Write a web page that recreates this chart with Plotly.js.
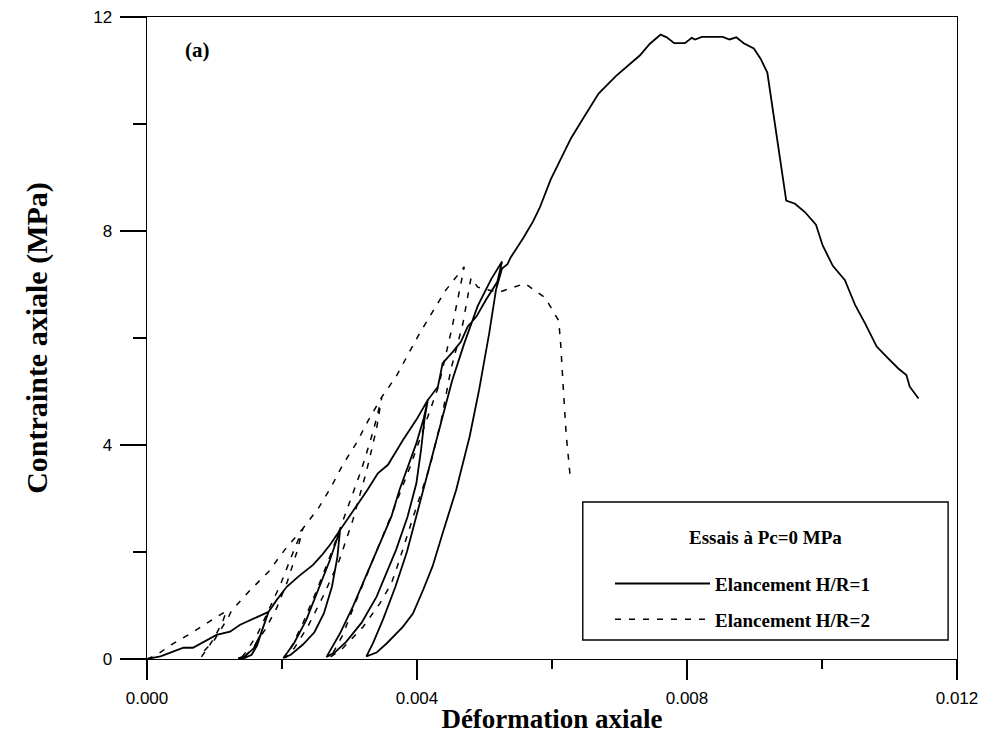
<!DOCTYPE html>
<html>
<head>
<meta charset="utf-8">
<script src="https://cdn.plot.ly/plotly-3.0.1.min.js"></script>
<style>html,body{margin:0;padding:0;background:#fff;}#chart{width:995px;height:742px;}</style>
</head>
<body>
<div id="chart"></div>
<script>
// ---- Data ----
// Series 1: Elancement H/R=1 (solid) - loading path with 4 unloading/reloading loops
var solidStrain = [
  0, 0.00020, 0.00054, 0.00068, 0.00103, 0.00123, 0.00138, 0.00160, 0.00180,
  0.00175, 0.00168, 0.00158, 0.00146, 0.00135, 0.00145, 0.00155, 0.00163, 0.00171, 0.00180,
  0.00192, 0.00207, 0.00225, 0.00246, 0.00259, 0.00272, 0.00286,
  0.00282, 0.00274, 0.00262, 0.00248, 0.00231, 0.00213, 0.00202,
  0.00208, 0.00218, 0.00236, 0.00256, 0.00271, 0.00286,
  0.00310, 0.00326, 0.00342, 0.00357, 0.00379, 0.00399, 0.00416,
  0.00411, 0.00406, 0.00399, 0.00386, 0.00369, 0.00340, 0.00318, 0.00295, 0.00278, 0.00266,
  0.00275, 0.00286, 0.00305, 0.00335, 0.00362, 0.00374, 0.00399, 0.00410, 0.00416,
  0.00431, 0.00438, 0.00453, 0.00465, 0.00475, 0.00488, 0.00502, 0.00519, 0.00526,
  0.00510, 0.00490, 0.00470, 0.00452, 0.00435, 0.00418, 0.00402, 0.00385, 0.00368, 0.00350, 0.00335, 0.00325,
  0.00340, 0.00355, 0.00379, 0.00394, 0.00409, 0.00423, 0.00438, 0.00458, 0.00478, 0.00492, 0.00507, 0.00517, 0.00526,
  0.00534, 0.00539, 0.00557, 0.00572, 0.00582, 0.00598, 0.00613, 0.00628, 0.00644, 0.00669, 0.00695, 0.00730,
  0.00745, 0.00761, 0.00770, 0.00781, 0.00797, 0.00807, 0.00812, 0.00822, 0.00853, 0.00863, 0.00873, 0.00884,
  0.00899, 0.00909, 0.00919, 0.00933, 0.00947, 0.00960, 0.00975, 0.00991, 0.01001, 0.01016, 0.01034, 0.01046,
  0.01049, 0.01064, 0.01069, 0.01081, 0.01098, 0.01113, 0.01125, 0.01130, 0.01143
];
var solidStress = [
  0, 0.05, 0.21, 0.21, 0.45, 0.51, 0.64, 0.76, 0.88,
  0.70, 0.45, 0.20, 0.06, 0.01, 0.02, 0.08, 0.25, 0.55, 0.88,
  1.10, 1.35, 1.55, 1.76, 1.94, 2.15, 2.41,
  1.90, 1.35, 0.85, 0.50, 0.27, 0.08, 0.02,
  0.12, 0.30, 0.73, 1.35, 1.85, 2.41,
  2.85, 3.15, 3.47, 3.63, 4.09, 4.47, 4.84,
  4.47, 3.91, 3.28, 2.66, 2.04, 1.16, 0.68, 0.32, 0.12, 0.04,
  0.25, 0.48, 0.98, 1.85, 2.66, 3.16, 4.03, 4.50, 4.84,
  5.09, 5.53, 5.74, 5.93, 6.21, 6.40, 6.71, 7.05, 7.43,
  7.10, 6.60, 5.90, 5.20, 4.40, 3.60, 2.80, 2.00, 1.35, 0.75, 0.30, 0.05,
  0.12, 0.29, 0.60, 0.85, 1.29, 1.73, 2.35, 3.16, 4.16, 5.03, 6.09, 6.90, 7.30,
  7.38, 7.51, 7.86, 8.18, 8.44, 8.96, 9.35, 9.73, 10.06, 10.57, 10.90, 11.28,
  11.50, 11.67, 11.62, 11.51, 11.51, 11.61, 11.58, 11.63, 11.63, 11.58, 11.62, 11.51,
  11.41, 11.22, 10.96, 9.80, 8.57, 8.51, 8.35, 8.12, 7.73, 7.35, 7.08, 6.71,
  6.62, 6.27, 6.15, 5.84, 5.62, 5.43, 5.31, 5.09, 4.87
];

// Series 2: Elancement H/R=2 (dashed)
var dashedStrain = [
  0, 0.00015, 0.00035, 0.00069, 0.00095, 0.00118,
  0.00112, 0.00102, 0.00090, 0.00080, 0.00084, 0.00100, 0.00121, 0.00125,
  0.00153, 0.00180, 0.00204, 0.00231,
  0.00222, 0.00208, 0.00192, 0.00175, 0.00158, 0.00145, 0.00138,
  0.00148, 0.00165, 0.00182, 0.00198, 0.00215, 0.00231,
  0.00254, 0.00273, 0.00290, 0.00310, 0.00327, 0.00348,
  0.00340, 0.00325, 0.00305, 0.00285, 0.00262, 0.00238, 0.00218, 0.00205,
  0.00215, 0.00232, 0.00252, 0.00272, 0.00295, 0.00318, 0.00335, 0.00348,
  0.00369, 0.00386, 0.00404, 0.00423, 0.00443, 0.00470,
  0.00462, 0.00452, 0.00432, 0.00410, 0.00390, 0.00364, 0.00336, 0.00307, 0.00290, 0.00275, 0.00270,
  0.00290, 0.00320, 0.00345, 0.00362, 0.00374, 0.00396, 0.00419, 0.00436, 0.00450, 0.00468, 0.00480,
  0.00490, 0.00520, 0.00560, 0.00590, 0.00610, 0.00613, 0.00617, 0.00621, 0.00627
];
var dashedStress = [
  0, 0.08, 0.26, 0.51, 0.72, 0.90,
  0.70, 0.45, 0.20, 0.03, 0.14, 0.36, 0.79, 0.90,
  1.29, 1.63, 2.04, 2.44,
  2.00, 1.45, 0.95, 0.55, 0.22, 0.05, 0.00,
  0.15, 0.50, 0.95, 1.40, 1.95, 2.44,
  2.82, 3.22, 3.63, 4.03, 4.44, 4.90,
  4.30, 3.50, 2.60, 1.85, 1.20, 0.60, 0.20, 0.02,
  0.25, 0.70, 1.30, 1.95, 2.75, 3.55, 4.25, 4.90,
  5.28, 5.68, 6.09, 6.49, 6.90, 7.33,
  6.80, 6.20, 5.10, 4.30, 3.60, 2.75, 1.90, 1.00, 0.45, 0.10, 0.02,
  0.20, 0.60, 1.04, 1.41, 1.85, 2.72, 3.59, 4.47, 5.40, 6.27, 7.12,
  6.95, 6.85, 7.02, 6.75, 6.32, 5.86, 5.00, 4.20, 3.40
];

var seriesNames = ['Elancement H/R=1', 'Elancement H/R=2'];
var legendTitle = 'Essais à Pc=0 MPa';
var panelLabel = '(a)';
var xTickVals = [0, 0.004, 0.008, 0.012];
var xTickText = ['0.000', '0.004', '0.008', '0.012'];
var xMinorVals = [0.002, 0.006, 0.010];
var yTickVals = [0, 4, 8, 12];
var yTickText = ['0', '4', '8', '12'];
var yMinorVals = [2, 6, 10];
var xTitle = 'Déformation axiale';
var yTitle = 'Contrainte axiale (MPa)';

// ---- Chart ----
var serif = 'Liberation Serif, Times New Roman, serif';
var sans = 'Liberation Sans, Arial, sans-serif';

var traces = [
  {x: solidStrain, y: solidStress, mode: 'lines', name: seriesNames[0], legendgroup: 'g1',
   line: {color: 'black', width: 1.8, dash: 'solid'}, hoverinfo: 'x+y'},
  {x: dashedStrain, y: dashedStress, mode: 'lines', name: seriesNames[1], legendgroup: 'g2',
   line: {color: 'black', width: 1.5, dash: '6px,8px'}, hoverinfo: 'x+y'}
];

var axisCommon = {
  showline: true, linecolor: 'black', linewidth: 1.4, mirror: true,
  showgrid: false, zeroline: false, ticks: 'outside', tickcolor: 'black', tickwidth: 1.3,
  tickfont: {family: sans, size: 17, color: 'black'}, autorange: false
};

var layout = {
  width: 995, height: 742,
  margin: {l: 147, r: 38, t: 17, b: 83},
  paper_bgcolor: 'white', plot_bgcolor: 'white',
  showlegend: true,
  xaxis: Object.assign({}, axisCommon, {
    range: [0, 0.012], tickmode: 'array', tickvals: xTickVals, ticktext: xTickText,
    ticklen: 20, ticklabelstandoff: 3,
    minor: {tickmode: 'array', tickvals: xMinorVals, ticks: 'outside', ticklen: 9, tickwidth: 1.2, tickcolor: 'black', showgrid: false},
    title: {text: xTitle, font: {family: serif, size: 27, color: 'black', weight: 'bold'}, standoff: 2}
  }),
  yaxis: Object.assign({}, axisCommon, {
    range: [0, 12], tickmode: 'array', tickvals: yTickVals, ticktext: yTickText,
    ticklen: 26, ticklabelstandoff: 4,
    minor: {tickmode: 'array', tickvals: yMinorVals, ticks: 'outside', ticklen: 13, tickwidth: 1.2, tickcolor: 'black', showgrid: false},
    title: {text: yTitle, font: {family: serif, size: 30, color: 'black', weight: 'bold'}, standoff: 36}
  }),
  legend: {
    x: 0.5716, y: 0.147, xanchor: 'left', yanchor: 'top',
    bgcolor: 'rgba(255,255,255,0)', borderwidth: 0,
    itemwidth: 95, tracegroupgap: 8, traceorder: 'grouped',
    font: {family: serif, size: 19, color: 'black', weight: 'bold'}
  },
  shapes: [
    {type: 'rect', xref: 'paper', yref: 'paper', x0: 0.538, x1: 0.989, y0: 0.0296, y1: 0.2445,
     line: {color: 'black', width: 1.4}, fillcolor: 'white', layer: 'below'}
  ],
  annotations: [
    {text: legendTitle, xref: 'paper', yref: 'paper', x: 0.763, y: 0.190, showarrow: false,
     xanchor: 'center', yanchor: 'middle',
     font: {family: serif, size: 19, color: 'black', weight: 'bold'}},
    {text: panelLabel, xref: 'paper', yref: 'paper', x: 0.044, y: 0.9486, showarrow: false,
     xanchor: 'left', yanchor: 'middle',
     font: {family: serif, size: 21, color: 'black', weight: 'bold'}}
  ]
};

Plotly.newPlot('chart', traces, layout, {displayModeBar: false, staticPlot: true});
</script>
</body>
</html>
